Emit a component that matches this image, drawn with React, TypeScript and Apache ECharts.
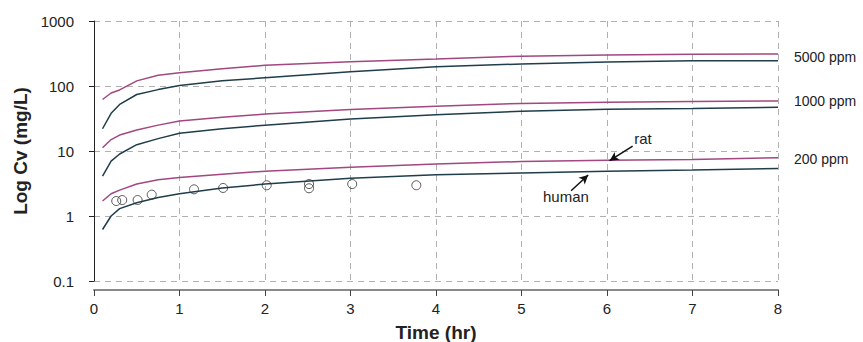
import React, { useEffect, useRef } from "react";
import * as echarts from "echarts";

const times = [0.1, 0.2, 0.3, 0.5, 0.75, 1, 1.5, 2, 3, 4, 5, 6, 7, 8];
const rat5000 = [62, 78, 87, 120, 146, 160, 185, 208, 237, 260, 288, 300, 308, 310];
const human5000 = [22, 38, 52, 74, 88, 102, 120, 134, 166, 198, 218, 234, 245, 245];
const rat1000 = [11.2, 15, 17.6, 21, 25, 29, 33, 37, 43.5, 49, 54, 56, 58, 59];
const human1000 = [4.1, 7, 9, 12.5, 15.5, 18.7, 22, 25, 31, 36, 41, 44, 45, 47];
const rat200 = [1.7, 2.2, 2.5, 3.1, 3.6, 3.9, 4.4, 4.9, 5.6, 6.3, 6.9, 7.2, 7.4, 7.9];
const human200 = [0.62, 1.0, 1.3, 1.6, 1.92, 2.2, 2.7, 3.1, 3.8, 4.3, 4.6, 4.9, 5.1, 5.4];

const obsTimes = [0.26, 0.33, 0.51, 0.675, 1.17, 1.51, 2.02, 2.515, 2.515, 3.02, 3.77];
const obsValues = [1.7, 1.76, 1.76, 2.13, 2.57, 2.7, 2.97, 3.1, 2.67, 3.1, 2.97];

const doseLabels = ["5000 ppm", "1000 ppm", "200 ppm"];
const xTicks = ["0", "1", "2", "3", "4", "5", "6", "7", "8"];

const RAT = "#a2477f";
const HUMAN = "#1f3d4b";
const FONT = "Liberation Sans, Arial, sans-serif";

function pair(vals: number[]) {
  return times.map((t, i) => [t, vals[i]]);
}

export default function App() {
  const ref = useRef<HTMLDivElement>(null);
  useEffect(() => {
    if (!ref.current) return;
    const chart = echarts.init(ref.current, undefined, { renderer: "svg" });
    const line = (name: string, vals: number[], color: string) => ({
      name,
      type: "line",
      data: pair(vals),
      showSymbol: false,
      symbol: "none",
      lineStyle: { color, width: 1.5 },
      itemStyle: { color },
      z: 3,
    });
    chart.setOption({
      animation: false,
      textStyle: { fontFamily: FONT },
      grid: { left: 94, right: 85, top: 21, bottom: 61, containLabel: false, outerBoundsMode: "none" },
      xAxis: {
        type: "value",
        min: 0,
        max: 8,
        interval: 1,
        offset: 9,
        name: "Time (hr)",
        nameLocation: "middle",
        nameGap: 33,
        nameTextStyle: { fontWeight: "bold", fontSize: 19, color: "#222", fontFamily: FONT },
        axisLine: { show: true, lineStyle: { color: "#8a8a8a", width: 2 } },
        axisTick: { show: true, length: 6, lineStyle: { color: "#444", width: 1 } },
        axisLabel: {
          fontSize: 15,
          color: "#222",
          margin: 11,
          formatter: (v: number) => xTicks[Math.round(v)] ?? String(v),
        },
        splitLine: { show: true, lineStyle: { color: "#b0b0b0", type: [6, 5], width: 1 } },
      },
      yAxis: {
        type: "log",
        logBase: 10,
        min: 0.1,
        max: 1000,
        offset: 8,
        name: "Log Cv (mg/L)",
        nameLocation: "middle",
        nameGap: 55,
        nameTextStyle: { fontWeight: "bold", fontSize: 19, color: "#222", fontFamily: FONT },
        axisLine: { show: true, lineStyle: { color: "#222", width: 1 } },
        axisTick: { show: true, length: 5, lineStyle: { color: "#222" } },
        axisLabel: {
          fontSize: 15,
          color: "#222",
          margin: 12,
          formatter: (v: number) => (v < 1 ? String(Math.round(v * 10) / 10) : String(Math.round(v))),
        },
        splitLine: { show: true, lineStyle: { color: "#b0b0b0", type: [6, 5], width: 1 } },
      },
      series: [
        line("rat 5000", rat5000, RAT),
        line("human 5000", human5000, HUMAN),
        line("rat 1000", rat1000, RAT),
        line("human 1000", human1000, HUMAN),
        {
          ...line("rat 200", rat200, RAT),
          markLine: {
            silent: true,
            symbol: ["none", "arrow"],
            symbolSize: [7, 9],
            label: { show: false },
            lineStyle: { color: "#111", width: 1.5, type: "solid" },
            data: [
              [{ coord: [6.3, 11.9] }, { coord: [6.03, 7.1] }],
              [{ coord: [5.58, 2.45] }, { coord: [5.78, 4.27] }],
            ],
          },
          markPoint: {
            silent: true,
            symbol: "circle",
            symbolSize: 0,
            label: { show: true, color: "#222", fontSize: 15, fontFamily: FONT, position: "inside" },
            data: [
              { coord: [6.42, 15.8], value: "rat", label: { formatter: "rat" } },
              { coord: [5.52, 1.98], value: "human", label: { formatter: "human" } },
            ],
          },
        },
        line("human 200", human200, HUMAN),
        {
          name: "observed",
          type: "scatter",
          data: obsTimes.map((t, i) => [t, obsValues[i]]),
          symbol: "circle",
          symbolSize: 9,
          itemStyle: { color: "transparent", borderColor: "#333", borderWidth: 1 },
          z: 4,
        },
      ],
      graphic: [
        { type: "text", left: 794, top: 50, style: { text: doseLabels[0], fontSize: 14, fill: "#222", fontFamily: FONT } },
        { type: "text", left: 794, top: 94, style: { text: doseLabels[1], fontSize: 14, fill: "#222", fontFamily: FONT } },
        { type: "text", left: 794, top: 152, style: { text: doseLabels[2], fontSize: 14, fill: "#222", fontFamily: FONT } },
      ],
    });
    return () => chart.dispose();
  }, []);
  return (
    <div
      ref={ref}
      style={{ position: "absolute", left: 0, top: 0, width: 863, height: 342, background: "#fff" }}
    />
  );
}
